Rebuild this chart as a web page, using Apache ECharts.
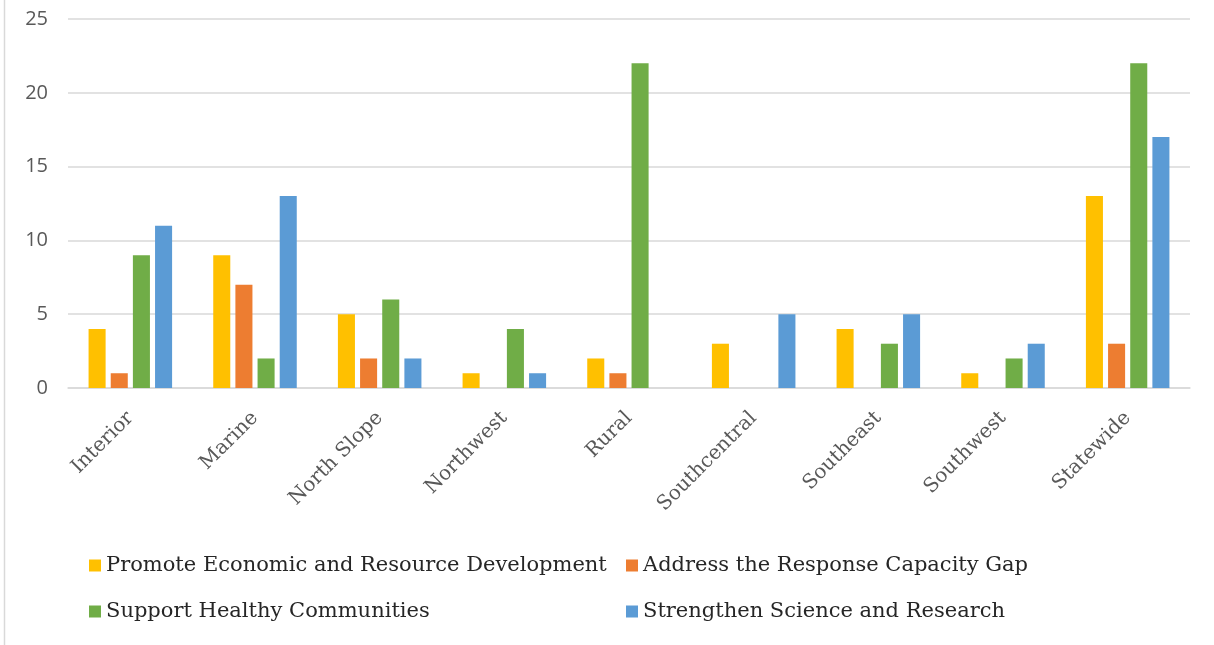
<!DOCTYPE html>
<html>
<head>
<meta charset="utf-8">
<script src="https://cdn.jsdelivr.net/npm/echarts@6/dist/echarts.min.js"></script>
<style>
  html, body { margin: 0; padding: 0; background: #fff; }
  #chart { width: 1214px; height: 645px; }
</style>
</head>
<body>
<div id="chart"></div>
<script>
const regions = ["Interior", "Marine", "North Slope", "Northwest", "Rural",
  "Southcentral", "Southeast", "Southwest", "Statewide"];
const seriesNames = [
  "Promote Economic and Resource Development",
  "Address the Response Capacity Gap",
  "Support Healthy Communities",
  "Strengthen Science and Research"
];
const economic = [4, 9, 5, 1, 2, 3, 4, 1, 13];
const capacity = [1, 7, 2, 0, 1, 0, 0, 0, 3];
const healthy = [9, 2, 6, 4, 22, 0, 3, 2, 22];
const science = [11, 13, 2, 1, 0, 5, 5, 3, 17];
const colors = ["#FFC000", "#ED7D31", "#70AD47", "#5B9BD5"];
const yTicks = [0, 5, 10, 15, 20, 25];

const chart = echarts.init(document.getElementById("chart"));
const serifFont = "'DejaVu Serif', serif";

const legendText = { fontFamily: serifFont, fontSize: 21, color: "#262626" };

chart.setOption({
  animation: false,
  color: colors,
  grid: { left: 68, right: 24, top: 19, bottom: 257 },
  graphic: [{
    type: "line",
    shape: { x1: 4.5, y1: 0, x2: 4.5, y2: 645 },
    style: { stroke: "#d9d9d9", lineWidth: 1.5 }
  }],
  legend: [
    {
      left: 84, top: 550, orient: "vertical",
      itemWidth: 12, itemHeight: 12, itemGap: 25,
      icon: "rect",
      data: [seriesNames[0], seriesNames[2]],
      textStyle: legendText
    },
    {
      left: 621, top: 550, orient: "vertical",
      itemWidth: 12, itemHeight: 12, itemGap: 25,
      icon: "rect",
      data: [seriesNames[1], seriesNames[3]],
      textStyle: legendText
    }
  ],
  xAxis: {
    type: "category",
    data: regions,
    axisLine: { lineStyle: { color: "#d9d9d9", width: 1.5 } },
    axisTick: { show: false },
    axisLabel: {
      rotate: 45,
      margin: 27,
      interval: 0,
      fontFamily: serifFont,
      fontSize: 20,
      color: "#595959"
    }
  },
  yAxis: {
    type: "value",
    min: yTicks[0],
    max: yTicks[yTicks.length - 1],
    interval: 5,
    axisLine: { show: false },
    axisTick: { show: false },
    splitLine: { lineStyle: { color: "#d9d9d9", width: 1.5 } },
    axisLabel: {
      margin: 20,
      fontFamily: "'Open Sans', sans-serif",
      fontSize: 20,
      color: "#595959"
    }
  },
  series: [economic, capacity, healthy, science].map((vals, i) => ({
    name: seriesNames[i],
    type: "bar",
    data: vals,
    barGap: "30%",
    barCategoryGap: "33%"
  }))
});
</script>
</body>
</html>
